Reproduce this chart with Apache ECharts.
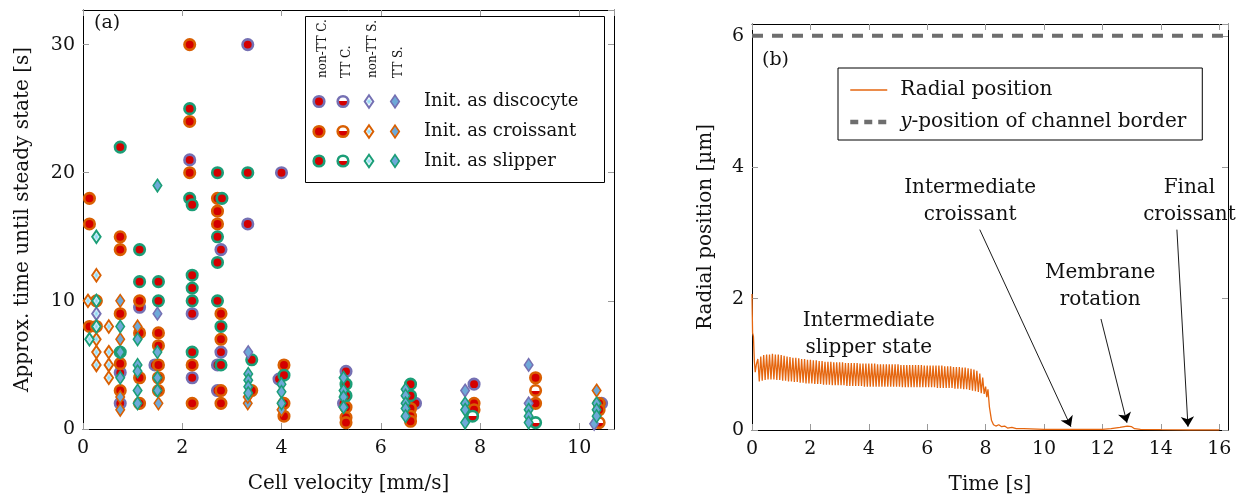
<!DOCTYPE html>
<html>
<head>
<meta charset="utf-8">
<script src="https://cdn.jsdelivr.net/npm/echarts@6/dist/echarts.min.js"></script>
<style>
html,body{margin:0;padding:0;background:#fff}
#chart{width:1238px;height:504px}
</style>
</head>
<body>
<div id="chart"></div>
<script>
// ---------- panel (a): time until steady state vs. cell velocity [mm/s, s] ----------
const discNonTTC = [[2.15,21],[2.2,9],[2.2,4],[2.78,14],[2.78,6],[2.71,5],[2.71,3],[3.32,30],[3.32,16],[4.0,20],[3.95,3.9],[0.75,4.4],[0.75,2],[1.14,9.5],[1.45,5],[5.3,4.5],[5.25,2],[6.7,2.0],[7.88,3.5],[10.45,2.0]];
const discTTC = [];
const discNonTTS = [[0.27,9]];
const discTTS = [[1.5,9],[3.33,6],[7.7,3],[8.98,5],[8.98,2],[10.3,0.4]];

const croNonTTC = [[0.13,18],[0.13,16],[0.13,8],[0.27,8],[0.75,15],[0.75,14],[0.75,9],[0.75,5.1],[0.75,3],[1.14,10],[1.14,7.5],[1.14,4],[1.14,2],[1.52,7.5],[1.52,6.5],[1.52,5],[1.52,4],[1.52,3],[2.15,30],[2.15,24],[2.15,20],[2.2,5],[2.2,2],[2.71,18],[2.71,17],[2.71,16],[2.78,9],[2.78,7],[2.78,3],[2.78,2],[3.4,3],[4.05,5],[4.05,2],[4.05,1],[5.3,1.7],[5.3,0.9],[5.3,0.5],[6.6,1.6],[6.6,1.0],[6.6,0.6],[7.88,2.0],[7.88,1.5],[9.12,4.0],[9.12,2.0],[10.4,2.0],[10.4,1.5]];
const croTTC = [[0.27,10],[9.12,3.0],[10.4,0.5]];
const croNonTTS = [[0.1,10],[0.27,12],[0.27,7],[0.27,6],[0.27,5],[0.52,8],[0.52,6],[0.52,5],[0.52,4]];
const croTTS = [[0.75,10],[0.75,7],[0.75,2.5],[0.75,1.5],[1.1,8],[1.52,2],[3.32,2],[3.32,2.5],[4.0,1.5],[10.35,3.0]];

const slipNonTTC = [[0.75,22],[2.15,25],[2.15,18],[2.2,17.5],[2.71,20],[2.8,18],[3.32,20],[1.14,14],[2.71,15],[2.71,13],[1.14,11.5],[1.52,11.5],[1.52,10],[2.2,12],[2.2,11],[2.2,10],[2.71,10],[2.78,8],[2.2,6],[0.75,6],[2.78,5],[3.4,5.4],[4.05,4.2],[5.3,3.5],[5.3,2.6],[6.6,3.5],[6.6,2.6]];
const slipTTC = [[7.85,1.0],[9.12,0.5]];
const slipNonTTS = [[0.27,15],[0.27,8],[0.13,7],[0.27,10]];
const slipTTS = [[1.5,19],[0.75,8],[0.75,6],[0.75,4],[1.1,7],[1.1,5],[1.1,4.5],[1.1,3],[1.1,2],[1.5,6],[1.5,4],[1.5,3],[3.33,4.3],[3.33,3.8],[3.33,3.3],[3.33,2.8],[4.0,3.5],[4.0,2.9],[4.0,2.0],[5.25,4.0],[5.25,3.0],[5.25,2.5],[5.25,1.7],[6.5,3.1],[6.5,2.6],[6.5,2.0],[6.5,1.6],[6.5,1.0],[7.7,2.0],[7.7,1.5],[7.7,0.5],[8.98,1.5],[8.98,1.0],[8.98,0.5],[10.35,2.0],[10.35,1.5],[10.35,1.0]];

const initShapes = ['Init. as discocyte', 'Init. as croissant', 'Init. as slipper'];
const stateNames = ['non-TT C.', 'TT C.', 'non-TT S.', 'TT S.'];
const velocityTicks = [0, 2, 4, 6, 8, 10];
const steadyTicks = [0, 10, 20, 30];

// ---------- panel (b): radial position over time [s, µm] ----------
const radialStart = [[0,2.07],[0.01,1.75],[0.02,1.48],[0.05,1.42],[0.08,1.05],[0.11,0.88],[0.15,1.0]];
const slipperPeaks = [[0.20,1.08],[0.30,1.12],[0.40,1.14],[0.50,1.15],[0.60,1.15],[0.70,1.16],[0.80,1.15],[0.90,1.15],[1.00,1.14],[1.10,1.13],[1.20,1.12],[1.30,1.11],[1.40,1.10],[1.50,1.10],[1.60,1.09],[1.70,1.08],[1.80,1.08],[1.90,1.07],[2.00,1.07],[2.10,1.06],[2.20,1.06],[2.30,1.05],[2.40,1.05],[2.50,1.04],[2.60,1.04],[2.70,1.04],[2.80,1.03],[2.90,1.03],[3.00,1.03],[3.10,1.03],[3.20,1.02],[3.30,1.02],[3.40,1.02],[3.50,1.02],[3.60,1.02],[3.70,1.01],[3.80,1.01],[3.90,1.01],[4.00,1.01],[4.10,1.01],[4.20,1.01],[4.30,1.00],[4.40,1.00],[4.50,1.00],[4.60,1.00],[4.70,1.00],[4.80,1.00],[4.90,1.00],[5.00,1.00],[5.10,0.99],[5.20,0.99],[5.30,0.99],[5.40,0.99],[5.50,0.99],[5.60,0.99],[5.70,0.99],[5.80,0.99],[5.90,0.98],[6.00,0.98],[6.10,0.98],[6.20,0.98],[6.30,0.98],[6.40,0.98],[6.50,0.98],[6.60,0.97],[6.70,0.97],[6.80,0.97],[6.90,0.96],[7.00,0.96],[7.10,0.96],[7.20,0.95],[7.30,0.95],[7.40,0.94],[7.50,0.93],[7.60,0.92],[7.70,0.90],[7.80,0.86],[7.90,0.80]];
const slipperTroughs = [[0.25,0.74],[0.35,0.75],[0.45,0.76],[0.55,0.77],[0.65,0.77],[0.75,0.77],[0.85,0.76],[0.95,0.76],[1.05,0.75],[1.15,0.75],[1.25,0.74],[1.35,0.74],[1.45,0.73],[1.55,0.73],[1.65,0.72],[1.75,0.72],[1.85,0.71],[1.95,0.71],[2.05,0.71],[2.15,0.70],[2.25,0.70],[2.35,0.70],[2.45,0.69],[2.55,0.69],[2.65,0.69],[2.75,0.68],[2.85,0.68],[2.95,0.68],[3.05,0.68],[3.15,0.68],[3.25,0.67],[3.35,0.67],[3.45,0.67],[3.55,0.67],[3.65,0.67],[3.75,0.67],[3.85,0.66],[3.95,0.66],[4.05,0.66],[4.15,0.66],[4.25,0.66],[4.35,0.66],[4.45,0.66],[4.55,0.66],[4.65,0.66],[4.75,0.66],[4.85,0.66],[4.95,0.66],[5.05,0.66],[5.15,0.65],[5.25,0.65],[5.35,0.65],[5.45,0.65],[5.55,0.65],[5.65,0.65],[5.75,0.65],[5.85,0.65],[5.95,0.65],[6.05,0.65],[6.15,0.65],[6.25,0.65],[6.35,0.64],[6.45,0.64],[6.55,0.64],[6.65,0.64],[6.75,0.64],[6.85,0.64],[6.95,0.63],[7.05,0.63],[7.15,0.63],[7.25,0.62],[7.35,0.62],[7.45,0.61],[7.55,0.60],[7.65,0.59],[7.75,0.58],[7.85,0.56],[7.95,0.55]];
const radialEnd = [[8.00,0.66],[8.04,0.50],[8.08,0.62],[8.13,0.35],[8.20,0.15],[8.27,0.08],[8.35,0.06],[8.45,0.08],[8.55,0.05],[8.65,0.06],[8.75,0.03],[8.90,0.04],[9.05,0.02],[9.30,0.02],[10,0.01],[11,0.01],[12,0.01],[12.3,0.02],[12.6,0.04],[12.85,0.06],[13.0,0.05],[13.1,0.02],[13.3,0.01],[14,0.005],[15,0],[16,0]];
const channelBorderY = 6;
const timeRange = [0, 16.3];
const timeTicks = [0, 2, 4, 6, 8, 10, 12, 14, 16];
const radialTicks = [0, 2, 4, 6];

// ---------- styling ----------
const FONT = 'DejaVu Serif';
const C_DISC = '#7570b3', C_CRO = '#d95f02', C_SLIP = '#1b9e77';
const RED = '#d40000', TTS_FILL = '#6ea9d8';
const LINE_ORANGE = '#e5660f', BORDER_GREY = '#6e6e6e';
const halfFill = {type:'linear', x:0, y:0, x2:0, y2:1, colorStops:[{offset:0,color:'#fff'},{offset:0.5,color:'#fff'},{offset:0.5,color:RED},{offset:1,color:RED}]};
const openDiamondFill = {type:'radial', x:0.5, y:0.5, r:0.5, colorStops:[{offset:0,color:'#7fd3f2'},{offset:0.35,color:'#bfe9f8'},{offset:0.6,color:'#fff'},{offset:1,color:'#fff'}]};

function markerStyle(kind, border) {
  if (kind === 0) return {symbol:'circle', symbolSize:10.5, itemStyle:{color:RED, borderColor:border, borderWidth:2.6, opacity:1}};
  if (kind === 1) return {symbol:'circle', symbolSize:10.5, itemStyle:{color:halfFill, borderColor:border, borderWidth:2.6, opacity:1}};
  if (kind === 2) return {symbol:'diamond', symbolSize:[8.5,12.5], itemStyle:{color:openDiamondFill, borderColor:border, borderWidth:2, opacity:1}};
  return {symbol:'diamond', symbolSize:[8.5,12.5], itemStyle:{color:TTS_FILL, borderColor:border, borderWidth:1.6, opacity:1}};
}

const scatterGroups = [
  [discNonTTC, discTTC, discNonTTS, discTTS],
  [croNonTTC, croTTC, croNonTTS, croTTS],
  [slipNonTTC, slipTTC, slipNonTTS, slipTTS]
];
const shapeColors = [C_DISC, C_CRO, C_SLIP];

const scatterSeries = [];
[0,1,2,3].forEach(kind => {
  scatterGroups.forEach((group, g) => {
    const st = markerStyle(kind, shapeColors[g]);
    scatterSeries.push(Object.assign({
      type:'scatter', name: initShapes[g] + ' / ' + stateNames[kind],
      xAxisIndex:0, yAxisIndex:0, data: group[kind], silent:true, z: 2 + kind
    }, st));
  });
});

const radialPosition = radialStart.concat(slipperPeaks, slipperTroughs, radialEnd).sort((a,b) => a[0]-b[0]);

// annotation texts and arrows (data coordinates of panel b)
const notes = [
  {text:'Intermediate\nslipper state', at:[4.0,1.45]},
  {text:'Intermediate\ncroissant', at:[7.47,3.48]},
  {text:'Membrane\nrotation', at:[11.92,2.19]},
  {text:'Final\ncroissant', at:[14.98,3.48]}
];
const arrows = [
  [[7.8,3.05],[10.92,0.05]],
  [[11.95,1.69],[12.84,0.11]],
  [[14.55,3.05],[14.93,0.05]]
];

const tickLbl = (ticks) => (v) => ticks.some(t => Math.abs(t - v) < 1e-6) ? String(v) : '';
const TICK = {show:true, inside:true, length:6, lineStyle:{color:'#9a9a9a', width:1}};
const AXLINE = {show:true, onZero:false, lineStyle:{color:'#000', width:1}};
const LBL = {color:'#111', fontFamily:FONT, fontSize:19};
const NAME = {fontFamily:FONT, fontSize:20, color:'#111'};

function valueAxis(o) {
  return Object.assign({
    type:'value', splitLine:{show:false}, axisLine:AXLINE, axisTick:TICK
  }, o);
}

const option = {
  animation:false,
  backgroundColor:'#fff',
  textStyle:{fontFamily:FONT},
  grid:[
    {left:83, top:10, width:531, height:419, show:false},
    {left:752, top:24, width:476, height:406, show:false}
  ],
  xAxis:[
    valueAxis({gridIndex:0, position:'bottom', min:0, max:10.7, interval:2,
      axisLabel:Object.assign({margin:10, showMaxLabel:false, formatter:tickLbl(velocityTicks)}, LBL),
      name:'Cell velocity [mm/s]', nameLocation:'middle', nameGap:45, nameTextStyle:NAME}),
    valueAxis({gridIndex:0, position:'top', min:0, max:10.7, interval:2, axisLabel:{show:false}}),
    valueAxis({gridIndex:1, position:'bottom', min:0, max:16.3, interval:2,
      axisLabel:Object.assign({margin:10, showMaxLabel:false, formatter:tickLbl(timeTicks)}, LBL),
      name:'Time [s]', nameLocation:'middle', nameGap:45, nameTextStyle:NAME}),
    valueAxis({gridIndex:1, position:'top', min:0, max:16.3, interval:2, axisLabel:{show:false}})
  ],
  yAxis:[
    valueAxis({gridIndex:0, position:'left', min:0, max:32.7, interval:10,
      axisLabel:Object.assign({margin:8, showMaxLabel:false, formatter:tickLbl(steadyTicks)}, LBL),
      name:'Approx. time until steady state [s]', nameLocation:'middle', nameGap:50, nameTextStyle:NAME}),
    valueAxis({gridIndex:0, position:'right', min:0, max:32.7, interval:10, axisLabel:{show:false}}),
    valueAxis({gridIndex:1, position:'left', min:0, max:6.18, interval:2,
      axisLabel:Object.assign({margin:8, showMaxLabel:false, formatter:tickLbl(radialTicks)}, LBL),
      name:'Radial position [\u00b5m]', nameLocation:'middle', nameGap:36, nameTextStyle:NAME}),
    valueAxis({gridIndex:1, position:'right', min:0, max:6.18, interval:2, axisLabel:{show:false}})
  ],
  legend:{
    show:true, orient:'vertical', left:838, top:68,
    data:[
      {name:'Radial position', lineStyle:{color:LINE_ORANGE, width:1.5, type:'solid'}},
      {name:'border', lineStyle:{color:BORDER_GREY, width:4.5, type:[8,6]}}
    ],
    itemWidth:37, itemHeight:14, itemGap:12,
    padding:[12, 16, 8, 10],
    borderColor:'#000', borderWidth:1, borderRadius:0,
    itemStyle:{opacity:0},
    textStyle:{fontFamily:FONT, fontSize:20, color:'#111',
      rich:{i:{fontFamily:FONT, fontSize:20, fontStyle:'italic', color:'#111', padding:[0,0,0,8]},
            n:{fontFamily:FONT, fontSize:20, color:'#111'},
            p:{fontFamily:FONT, fontSize:20, color:'#111', padding:[0,0,0,8]}}},
    formatter:(n) => n === 'border' ? '{i|y}{n|-position of channel border}' : '{p|' + n + '}',
    selectedMode:false
  },
  series: scatterSeries.concat([
    {
      type:'line', name:'border', xAxisIndex:2, yAxisIndex:2,
      data:[[timeRange[0], channelBorderY], [timeRange[1], channelBorderY]],
      showSymbol:false, symbol:'none', silent:true,
      lineStyle:{color:BORDER_GREY, width:4, type:[11,9]}, itemStyle:{color:BORDER_GREY}, z:3
    },
    {
      type:'line', name:'Radial position', xAxisIndex:2, yAxisIndex:2,
      data:radialPosition, showSymbol:false, symbol:'none', silent:true,
      lineStyle:{color:LINE_ORANGE, width:1.3}, itemStyle:{color:LINE_ORANGE}, z:4,
      markLine:{
        silent:true, symbol:['none','arrow'], symbolSize:10, precision:3,
        label:{show:false}, lineStyle:{color:'#000', width:0.9, type:'solid'},
        emphasis:{disabled:true},
        data: arrows.map(a => [{coord:a[0]}, {coord:a[1]}])
      },
      markPoint:{
        silent:true, symbol:'circle', symbolSize:0,
        label:{show:true, position:'inside', fontFamily:FONT, fontSize:20, color:'#111', lineHeight:27, align:'center'},
        data: notes.map(n => ({coord:n.at, value:0, label:{formatter:n.text}}))
      }
    }
  ]),
  graphic: []
};

// panel labels and the state/shape key of panel (a)
const g = [];
g.push({type:'text', left:94, top:14, style:{text:'(a)', font:'19px ' + FONT, fill:'#111'}});
g.push({type:'text', left:762, top:51, style:{text:'(b)', font:'19px ' + FONT, fill:'#111'}});
g.push({type:'rect', shape:{x:305.5, y:16.5, width:299, height:166}, style:{fill:'#fff', stroke:'#000', lineWidth:1}, z:50});
const keyX = [319, 343, 369, 395];
const keyY = [101.5, 131.5, 161];
stateNames.forEach((s, i) => {
  g.push({type:'text', x:keyX[i] + 4, y:78, rotation:Math.PI/2, style:{text:s, font:'12px ' + FONT, fill:'#111', align:'left', verticalAlign:'middle'}, z:51});
});
initShapes.forEach((name, r) => {
  const col = shapeColors[r];
  const y = keyY[r];
  g.push({type:'circle', shape:{cx:keyX[0], cy:y, r:5.3}, style:{fill:RED, stroke:col, lineWidth:2.6}, z:51});
  g.push({type:'circle', shape:{cx:keyX[1], cy:y, r:5.3}, style:{fill:halfFill, stroke:col, lineWidth:2.6}, z:51});
  g.push({type:'polygon', shape:{points:[[keyX[2],y-6.3],[keyX[2]+4.3,y],[keyX[2],y+6.3],[keyX[2]-4.3,y]]}, style:{fill:openDiamondFill, stroke:col, lineWidth:2}, z:51});
  g.push({type:'polygon', shape:{points:[[keyX[3],y-6.3],[keyX[3]+4.3,y],[keyX[3],y+6.3],[keyX[3]-4.3,y]]}, style:{fill:TTS_FILL, stroke:col, lineWidth:1.6}, z:51});
  g.push({type:'text', x:424, y:y, style:{text:name, font:'18px ' + FONT, fill:'#111', align:'left', verticalAlign:'middle'}, z:51});
});
option.graphic = g;

const chart = echarts.init(document.getElementById('chart'), null, {renderer:'canvas'});
chart.setOption(option);
</script>
</body>
</html>
